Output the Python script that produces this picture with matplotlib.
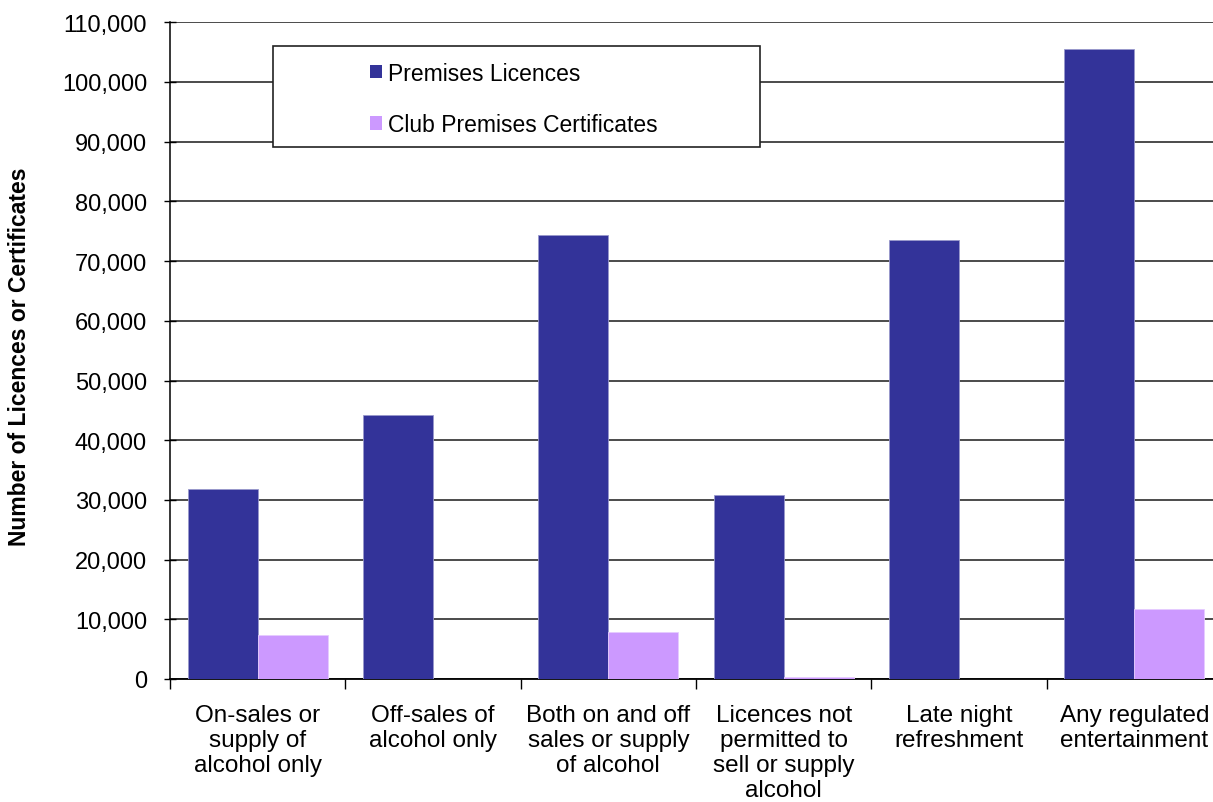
import matplotlib.pyplot as plt
from matplotlib.patches import Rectangle, Patch
from matplotlib.ticker import FuncFormatter, FixedLocator
import numpy as np

categories = [
    "On-sales or\nsupply of\nalcohol only",
    "Off-sales of\nalcohol only",
    "Both on and off\nsales or supply\nof alcohol",
    "Licences not\npermitted to\nsell or supply\nalcohol",
    "Late night\nrefreshment",
    "Any regulated\nentertainment",
]
premises_licences = [31800, 44300, 74400, 30900, 73600, 105600]
club_certificates = [7400, 0, 7900, 330, 0, 11800]
series_names = ["Premises Licences", "Club Premises Certificates"]
colors = ["#333399", "#CC99FF"]

plt.rcParams['font.family'] = ['Liberation Sans', 'DejaVu Sans']

W, H = 1213, 803
fig = plt.figure(figsize=(W / 100, H / 100), dpi=100)
# plot area runs slightly past the right edge of the picture, as in the source
ax = fig.add_axes([170 / W, (H - 680) / H, (1222 - 170) / W, (680 - 23.3) / H])

x = np.arange(len(categories))
bw = 0.4
ax.bar(x - bw / 2, premises_licences, bw, color=colors[0],
       edgecolor='#9999cc', linewidth=0.6, zorder=3)
ax.bar(x + bw / 2, club_certificates, bw, color=colors[1],
       edgecolor='#e6ccff', linewidth=0.6, zorder=3)

ax.set_xlim(-0.5, len(categories) - 0.5)
ax.set_ylim(0, 110000)
ax.set_yticks(np.arange(0, 110001, 10000))
ax.yaxis.set_major_formatter(FuncFormatter(lambda v, p: f"{int(v):,}"))
ax.grid(axis='y', color='#1a1a1a', linewidth=1.1, zorder=0)
ax.set_axisbelow(True)

ax.set_xticks(x)
ax.set_xticklabels(categories, fontsize=17.5, linespacing=1.17)
ax.xaxis.set_minor_locator(FixedLocator(np.arange(-0.5, len(categories), 1.0)))
ax.tick_params(axis='x', which='major', length=0, pad=18)
ax.tick_params(axis='x', which='minor', direction='out', length=7, width=1)
ax.tick_params(axis='y', direction='inout', length=9, width=1, pad=12,
               labelsize=17)

for s in ['top', 'right']:
    ax.spines[s].set_visible(False)
ax.spines['left'].set_linewidth(1.1)
ax.spines['bottom'].set_linewidth(1.3)

fig.text(20 / W, 1 - 357 / H, "Number of Licences or Certificates",
         rotation=90, ha='center', va='center', fontsize=16.5, fontweight='bold')

# legend box
box = Rectangle((273 / W, 1 - 148 / H), 487 / W, 101 / H,
                transform=fig.transFigure, facecolor='white',
                edgecolor='#222222', linewidth=1.2, zorder=5)
fig.patches.append(box)
handles = [Patch(facecolor=c, edgecolor='none') for c in colors]
leg = fig.legend(handles, series_names, loc='upper left',
                 bbox_to_anchor=(349 / W, 1 - 42 / H), frameon=False,
                 fontsize=16.5, handlelength=0.55, handleheight=0.55,
                 handletextpad=0.25, labelspacing=1.25)
leg.set_zorder(6)

fig.savefig("out.png", dpi=100)
